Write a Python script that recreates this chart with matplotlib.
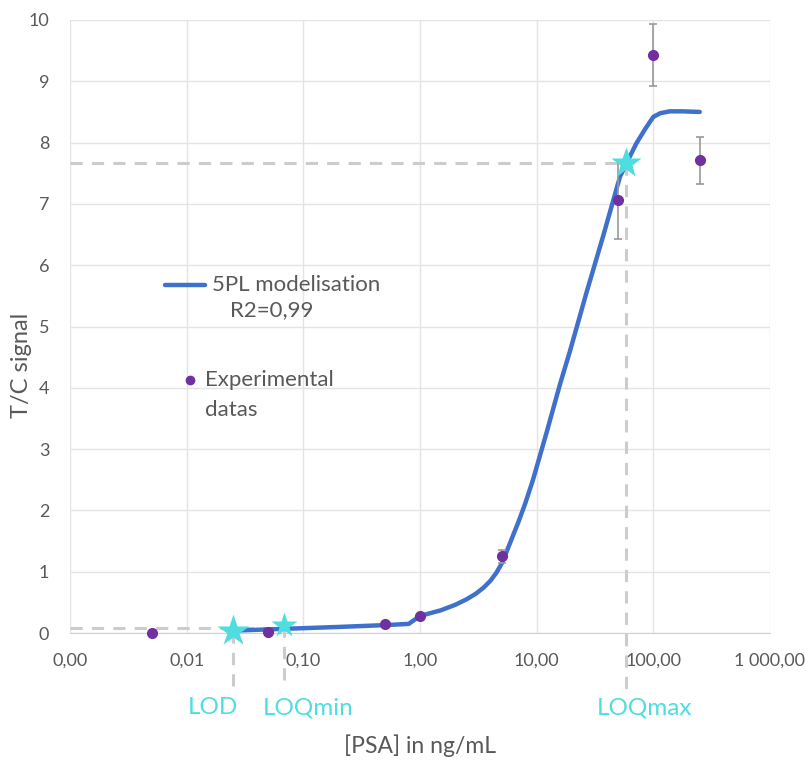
import numpy as np
import matplotlib.pyplot as plt
from matplotlib.ticker import FixedLocator, FixedFormatter, NullLocator

plt.rcParams['font.family'] = ['Lato', 'DejaVu Sans']

# experimental points
conc = [0.005, 0.05, 0.5, 1.0, 5.0, 50.0, 100.0, 250.0]
signal = [0.0, 0.02, 0.15, 0.28, 1.25, 7.07, 9.43, 7.71]
signal_err = [0.0, 0.0, 0.0, 0.0, 0.1, 0.65, 0.5, 0.38]

# 5PL model curve
fit_conc = [0.025, 0.05, 0.07, 0.1, 0.2, 0.5, 0.8, 1.0, 1.5, 2.0, 2.5, 3.0, 3.5,
            4.0, 4.5, 5.0, 5.5, 6.0, 7.0, 8.0, 9.3, 12.2, 15.8, 19.3, 26.7,
            37.2, 51.7, 62.0, 71.7, 85.0, 100.0, 115.0, 138.0, 180.0, 250.0]
fit_signal = [0.04, 0.06, 0.07, 0.08, 0.10, 0.13, 0.15, 0.28, 0.37, 0.46, 0.55, 0.64, 0.74,
              0.85, 0.98, 1.13, 1.32, 1.50, 1.82, 2.12, 2.5, 3.28, 4.05, 4.6, 5.55,
              6.48, 7.44, 7.75, 7.99, 8.22, 8.42, 8.48, 8.51, 8.51, 8.50]

# detection / quantification limits
lim_names = ['LOD', 'LOQmin', 'LOQmax']
lim_conc = [0.025, 0.068, 58.0]
lim_signal = [0.03, 0.13, 7.67]

x_ticks = [0.001, 0.01, 0.1, 1, 10, 100, 1000]
x_labels = ['0,00', '0,01', '0,10', '1,00', '10,00', '100,00', '1 000,00']
y_ticks = list(range(0, 11))

blue = '#3F70CC'
purple = '#7030A0'
cyan = '#4FDDDF'
dash_grey = '#CCCCCC'
txt_grey = '#595959'

fig = plt.figure(figsize=(8.05, 7.6), dpi=100)
ax = fig.add_axes([0.087, 0.167, 0.8695, 0.8067])

ax.set_xscale('log')
ax.set_xlim(0.001, 1000)
ax.set_ylim(0, 10)
ax.xaxis.set_major_locator(FixedLocator(x_ticks))
ax.xaxis.set_major_formatter(FixedFormatter(x_labels))
ax.xaxis.set_minor_locator(NullLocator())
ax.set_yticks(y_ticks)
ax.tick_params(axis='both', length=0, labelsize=13, labelcolor=txt_grey)
ax.tick_params(axis='x', pad=14)
ax.tick_params(axis='y', pad=15)
ax.grid(True, color='#E4E4E4', linewidth=1)
ax.set_axisbelow(True)
for s in ['top', 'right', 'left']:
    ax.spines[s].set_visible(False)
ax.spines['bottom'].set_color('#D0D0D0')

# dashed guide lines
dash = (0, (4, 3))
ax.plot([0.001, lim_conc[1]], [0.08, 0.08], ls=dash, color=dash_grey, lw=2.2, zorder=2)
ax.plot([0.001, lim_conc[2]], [lim_signal[2], lim_signal[2]], ls=dash, color=dash_grey, lw=2.2, zorder=2)
ax.plot([lim_conc[0], lim_conc[0]], [lim_signal[0], -0.88], ls=dash, color=dash_grey, lw=2.2, clip_on=False, zorder=2)
ax.plot([lim_conc[1], lim_conc[1]], [lim_signal[1], -0.88], ls=dash, color=dash_grey, lw=2.2, clip_on=False, zorder=2)
ax.plot([lim_conc[2], lim_conc[2]], [lim_signal[2], -0.95], ls=dash, color=dash_grey, lw=2.2, clip_on=False, zorder=2)

# model curve
ax.plot(fit_conc, fit_signal, color=blue, lw=3.2, solid_capstyle='round',
        solid_joinstyle='round', zorder=3)

# experimental points with error bars
ax.errorbar(conc, signal, yerr=signal_err, fmt='none', ecolor='#9A9A9A', elinewidth=1.2,
            capsize=3, capthick=1.2, zorder=4)
ax.plot(conc, signal, 'o', color=purple, ms=7, zorder=5, clip_on=False)

# limit stars
ax.plot(lim_conc[0], lim_signal[0], '*', color=cyan, ms=24, mec='none', zorder=6, clip_on=False)
ax.plot(lim_conc[1], lim_signal[1], '*', color=cyan, ms=19, mec='none', zorder=6, clip_on=False)
ax.plot(lim_conc[2], lim_signal[2], '*', color=cyan, ms=23, mec='none', zorder=6, clip_on=False)

lim_text_x = [0.204, 0.34, 0.821]
for name, tx in zip(lim_names, lim_text_x):
    ax.text(tx, -0.122, name, transform=ax.transAxes, ha='center', va='center',
            fontsize=17.5, color=cyan)

ax.set_xlabel('[PSA] in ng/mL', fontsize=16.5, color=txt_grey, va='center')
ax.xaxis.set_label_coords(0.5, -0.183)
ax.set_ylabel('T/C signal', fontsize=17, color=txt_grey, va='center')
ax.yaxis.set_label_coords(-0.069, 0.437)

# legend drawn by hand, Excel style
ax.plot([0.136, 0.193], [0.568, 0.568], transform=ax.transAxes, color=blue, lw=3.2,
        solid_capstyle='round', zorder=7)
ax.text(0.203, 0.568, '5PL modelisation', transform=ax.transAxes, va='center',
        fontsize=16, color=txt_grey)
ax.text(0.229, 0.527, 'R2=0,99', transform=ax.transAxes, va='center',
        fontsize=16, color=txt_grey)
ax.plot([0.171], [0.413], 'o', transform=ax.transAxes, color=purple, ms=6, zorder=7)
ax.text(0.193, 0.413, 'Experimental', transform=ax.transAxes, va='center',
        fontsize=16, color=txt_grey)
ax.text(0.193, 0.364, 'datas', transform=ax.transAxes, va='center',
        fontsize=16, color=txt_grey)

fig.savefig('out.png', dpi=100, facecolor='white')
